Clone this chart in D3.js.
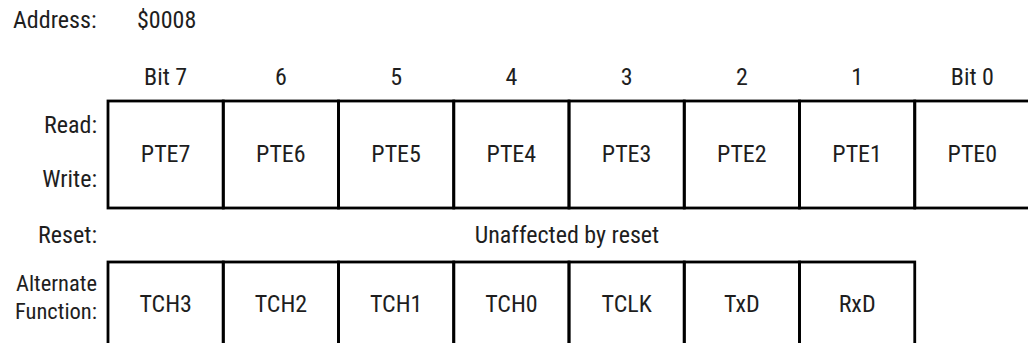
<!DOCTYPE html>
<html><head><meta charset="utf-8">
<script src="https://cdn.jsdelivr.net/npm/d3@7"></script>
<style>
html,body{margin:0;padding:0;background:#fff;}
svg{display:block;}
text{font-family:"Liberation Sans Narrow","Arial Narrow","Roboto Condensed","Liberation Sans",sans-serif;fill:#1e1e1e;}
</style></head>
<body>
<svg id="chart" width="1028" height="343"></svg>
<script>
const address = "$0008";
const bitLabels = ["Bit 7","6","5","4","3","2","1","Bit 0"];
const rwNames = ["PTE7","PTE6","PTE5","PTE4","PTE3","PTE2","PTE1","PTE0"];
const altNames = ["TCH3","TCH2","TCH1","TCH0","TCLK","TxD","RxD"];
const resetText = "Unaffected by reset";
const rowLabels = ["Read:","Write:","Reset:","Alternate","Function:"];

const W = 1028, H = 343;
const svg = d3.select("#chart");
const fs = 24;

const x = d3.scaleBand().domain(d3.range(bitLabels.length)).range([108, 1030]).padding(0);
const bw = x.bandwidth();

// header
svg.append("text").attr("x",13).attr("y",28).style("font-size",fs+"px").text("Address:");
svg.append("text").attr("x",137).attr("y",28).style("font-size",fs+"px").text(address);

// bit labels
svg.selectAll("text.bit").data(bitLabels).enter().append("text")
  .attr("class","bit").attr("x",(d,i)=>x(i)+bw/2).attr("y",85)
  .attr("text-anchor","middle").style("font-size",fs+"px").text(d=>d);

// row labels (right aligned)
const labelX = 97;
const labelY = [133,187,243,291,319];
const labelFs = [24,24,24,22.5,22.5];
svg.selectAll("text.rl").data(rowLabels).enter().append("text")
  .attr("class","rl").attr("x",labelX).attr("y",(d,i)=>labelY[i])
  .attr("text-anchor","end").style("font-size",(d,i)=>labelFs[i]+"px").text(d=>d);

// Read/Write register box
const top1 = 101, bot1 = 208;
const g1 = svg.append("g");
g1.selectAll("rect").data(rwNames).enter().append("rect")
  .attr("x",(d,i)=>x(i)).attr("y",top1).attr("width",bw).attr("height",bot1-top1)
  .attr("fill","none").attr("stroke","#000").attr("stroke-width",2.8);
g1.selectAll("text").data(rwNames).enter().append("text")
  .attr("x",(d,i)=>x(i)+bw/2).attr("y",162)
  .attr("text-anchor","middle").style("font-size",fs+"px").text(d=>d);

// reset text
svg.append("text").attr("x",(x(0)+x(bitLabels.length-1)+bw)/2 - 2).attr("y",243)
  .attr("text-anchor","middle").style("font-size",fs+"px").text(resetText);

// Alternate function box
const top2 = 262, bot2 = 348;
const g2 = svg.append("g");
g2.selectAll("rect").data(altNames).enter().append("rect")
  .attr("x",(d,i)=>x(i)).attr("y",top2).attr("width",bw).attr("height",bot2-top2)
  .attr("fill","none").attr("stroke","#000").attr("stroke-width",2.8);
g2.selectAll("text").data(altNames).enter().append("text")
  .attr("x",(d,i)=>x(i)+bw/2).attr("y",312)
  .attr("text-anchor","middle").style("font-size",fs+"px").text(d=>d);
</script>
</body></html>
